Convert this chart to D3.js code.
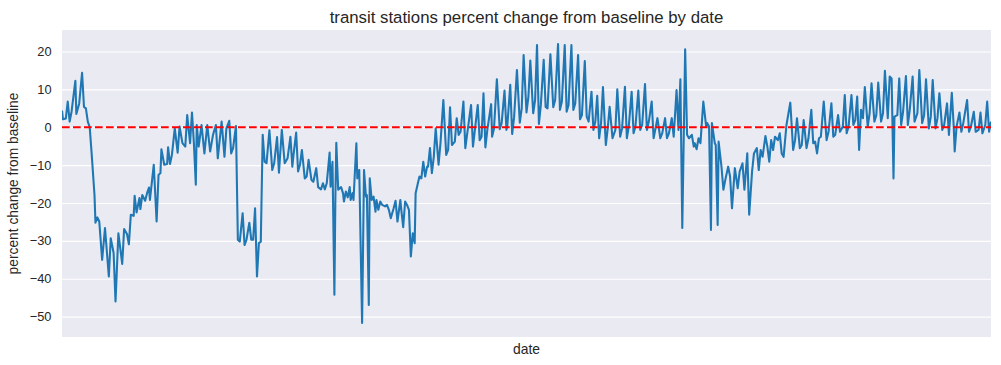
<!DOCTYPE html>
<html><head><meta charset="utf-8">
<script src="https://cdn.jsdelivr.net/npm/d3@7"></script>
<style>
body{margin:0;background:#fff}
text{font-family:"Liberation Sans",Arial,Helvetica,sans-serif;fill:#262626}
</style>
</head><body>
<svg id="chart" width="1001" height="365"></svg>
<script>
// ---- data ----
const startDate = "2020-02-15";
const lastDayOffset = 972;
const dayOffsets = [
0,1,4,6,8,10,14,15,18,21,23,25,27,29,31,34,35,37,39,42,45,49,51,54,56,59,63,65,68,70,72,75,76,78,81,82,84,87,89,91,92,96,99,101,103,104,107,110,111,113,
115,118,121,123,126,129,131,134,136,138,140,141,143,146,149,152,155,158,161,163,167,170,172,175,177,179,182,184,186,189,191,193,196,198,200,202,204,206,208,210,212,214,217,
220,222,225,227,230,233,236,239,241,242,245,247,249,251,254,256,258,261,263,266,268,271,273,275,277,280,281,283,285,286,287,289,292,294,295,297,299,301,302,304,305,308,309,311,314,316,318,319,321,322,324,326,
328,329,331,333,335,338,340,342,344,347,349,351,354,355,357,359,361,363,365,367,369,370,372,374,376,378,380,382,383,385,387,389,391,394,396,399,402,404,406,408,411,413,415,417,420,422,424,428,430,432,435,437,439,
441,443,445,449,450,452,455,458,460,463,465,466,469,471,473,476,479,481,483,486,488,490,493,495,497,499,501,504,506,508,511,514,516,519,521,523,526,528,530,533,535,537,540,542,544,547,
549,551,554,556,558,560,562,564,566,569,571,573,576,579,581,584,586,589,591,593,596,598,600,603,605,607,610,612,614,617,619,620,623,626,628,631,633,635,638,640,643,645,647,649,652,654,656,659,661,
662,664,666,668,671,674,675,677,679,680,683,684,686,687,690,692,694,697,699,701,704,707,709,712,714,717,719,722,724,727,729,731,733,736,738,740,742,744,746,749,751,753,755,758,762,
765,767,769,772,774,776,779,781,784,786,788,790,792,794,797,800,802,805,807,809,812,814,817,819,821,823,826,828,830,832,834,836,838,840,843,845,847,850,852,854,857,859,861,864,
866,868,870,871,874,876,878,880,883,885,887,890,892,895,897,900,902,904,907,909,911,914,916,918,921,923,926,928,931,933,934,936,939,941,943,947,949,951,954,956,959,961,963,966,968,970,972
];
const values = [
4.4,2.1,2.3,6.8,1.5,4.1,12.3,3.5,6.3,14.4,5.4,5.0,1.5,0,-6.9,-17.9,-25.2,-23.8,-24.9,-35.0,-26.6,-39.4,-29.3,-33.2,-46.0,-28.0,-36.1,-26.9,-28.2,-30.9,-23.1,-23.4,-18.1,-22.5,-18.7,-21.6,-17.9,-19.4,-17.4,-15.9,-19.2,-9.9,-24.9,-12.6,-12.1,-5.8,-9.9,-9.7,-5.3,-9.7,
-7.3,-0.3,-6.7,0.2,-4.2,-5.1,3.2,-4.2,3.9,-4.2,-15.2,0.6,-5.1,0.6,-6.9,0.6,-6.4,-2.0,0.6,-8.2,1.5,-7.8,-0.3,1.7,-6.9,-5.5,0.3,-29.7,-30.2,-22.7,-31.1,-29.7,-25.2,-29.7,-29.7,-21.4,-39.4,-30.6,-30.2,-2.0,-9.1,-9.5,-0.8,
-11.3,-9.5,-2.6,-12.0,-0.7,-9.5,-8.2,-2.5,-10.4,-7.8,-1.4,-11.7,-9.9,-6.0,-13.5,-13.0,-8.6,-13.9,-14.4,-10.8,-15.8,-16.4,-14.8,-16.4,-14.8,-6.7,-15.7,-9.1,-44.2,-19.2,-4.1,-16.5,-15.8,-17.4,-19.6,-17.0,-18.5,-15.8,-19.2,-17.4,-19.2,-4.2,-13.5,-11.3,-51.7,-11.3,-18.3,-17.9,-46.9,-13.5,-19.2,-18.3,
-22.3,-19.2,-21.8,-19.6,-20.5,-20.9,-20.5,-21.8,-24.0,-21.4,-19.4,-24.9,-19.2,-21.8,-26.4,-19.6,-20.5,-21.8,-34.1,-28.0,-30.6,-17.4,-15.2,-13.0,-13.5,-9.1,-13.0,-10.4,-10.4,-5.5,-12.1,-7.8,-0.3,-9.9,-4.2,7.2,-7.3,-6.0,5.3,-4.7,-3.8,2.4,-2.0,-1.2,6.8,-5.5,-1.6,5.9,-5.1,-0.7,5.9,-3.4,-2.5,
9.0,-5.3,-0.7,6.1,-2.5,-0.3,12.7,-0.5,1.1,9.7,-0.7,0.6,11.2,-1.8,2.6,15.1,1.2,5.0,19.1,3.9,8.1,17.6,3.7,7.2,21.7,0.9,5.9,17.8,5.4,5.0,19.3,5.3,7.2,22.0,4.6,6.8,21.7,4.1,5.9,21.7,4.6,6.3,19.1,2.1,3.2,17.5,
2.8,1.5,9.4,-0.7,1.5,8.3,-2.9,1.1,10.6,-4.7,-0.3,5.4,-2.9,-0.7,10.0,-2.5,-0.3,10.7,-2.9,0.2,9.4,-1.6,0.2,9.7,-0.7,0.6,11.4,-0.7,1.5,6.8,-2.9,-1.6,2.4,-2.9,-1.6,2.4,-2.9,-1.6,2.4,-2.5,9.8,-0.7,12.7,-26.6,20.6,-2.0,-2.9,-2.0,-5.1,
-4.2,-5.8,-2.9,-4.2,6.8,0.2,1.1,0.2,-27.1,1.1,-4.2,-4.7,-25.8,-3.8,-10.4,-16.5,-13.9,-10.4,-13.0,-21.4,-10.8,-16.1,-11.7,-9.5,-16.5,-6.9,-23.1,-11.7,-6.9,-5.5,-11.3,-6.0,-7.8,-2.3,-5.1,-9.1,-3.4,-6.0,-2.5,-3.4,-1.6,-6.9,-7.8,0.6,6.5,
-6.0,-3.4,2.4,-5.5,-4.7,1.9,-5.5,-2.9,4.6,-4.2,-3.8,-6.9,-2.9,-2.5,6.8,-3.4,-1.2,6.3,-2.5,-2.0,3.2,-1.2,0.2,8.5,-1.6,0.2,8.5,0.6,1.9,8.1,-6.0,4.6,2.4,10.6,0.2,3.7,11.6,1.5,3.2,11.8,1.5,3.7,14.9,2.4,
13.4,12.9,-13.5,2.8,3.2,12.9,0.6,4.1,13.5,0.6,4.6,13.4,1.5,3.7,15.1,1.1,3.2,12.7,-0.3,2.8,12.5,-0.3,2.4,9.0,-0.7,0.6,6.3,-2.0,9.1,0.2,-6.4,0.2,3.9,-1.2,1.1,7.2,-1.2,0.2,4.1,-1.2,-0.7,3.9,-1.6,0.6,6.8,-1.2,1.5
];
const yTicks = [-50, -40, -30, -20, -10, 0, 10, 20];
const baselineValue = 0;
const titleText = "transit stations percent change from baseline by date";
const xLabelText = "date";
const yLabelText = "percent change from baseline";

// ---- layout ----
const W = 1001, H = 365;
const M = {left: 62, right: 1001 - 991, top: 30, bottom: 365 - 337};
const svg = d3.select("#chart");
const parse = d3.timeParse("%Y-%m-%d");
const t0 = parse(startDate);
const data = dayOffsets.map((d, i) => ({date: d3.timeDay.offset(t0, d), value: values[i]}));

const x = d3.scaleTime()
  .domain([t0, d3.timeDay.offset(t0, lastDayOffset)])
  .range([M.left, W - M.right]);
const [vmin, vmax] = d3.extent(values);
const pad = (vmax - vmin) * 0.05;
const y = d3.scaleLinear()
  .domain([vmin - pad, vmax + pad])
  .range([H - M.bottom, M.top]);

// background
svg.append("rect")
  .attr("x", M.left).attr("y", M.top)
  .attr("width", W - M.left - M.right)
  .attr("height", H - M.top - M.bottom)
  .attr("fill", "#eaeaf2");

// y axis with gridlines
const yAxis = d3.axisLeft(y).tickValues(yTicks).tickSize(0).tickPadding(10.5)
  .tickFormat(d3.format("d"));
const gy = svg.append("g").attr("transform", `translate(${M.left},0)`).call(yAxis);
gy.select(".domain").remove();
gy.selectAll("text").attr("font-size", "12.8px").attr("fill", "#262626")
  .style("font-family", '"Liberation Sans",Arial,sans-serif');

const grid = d3.axisLeft(y).tickValues(yTicks).tickSize(-(W - M.left - M.right)).tickFormat("");
const gg = svg.append("g").attr("transform", `translate(${M.left},0)`).call(grid);
gg.select(".domain").remove();
gg.selectAll("line").attr("stroke", "#ffffff").attr("stroke-width", 1.1);

// clip
svg.append("clipPath").attr("id", "clip").append("rect")
  .attr("x", M.left).attr("y", M.top)
  .attr("width", W - M.left - M.right).attr("height", H - M.top - M.bottom);

// series line
const line = d3.line().x(d => x(d.date)).y(d => y(d.value));
svg.append("path").datum(data)
  .attr("clip-path", "url(#clip)")
  .attr("fill", "none")
  .attr("stroke", "#1f77b4")
  .attr("stroke-width", 2.08)
  .attr("stroke-linejoin", "round")
  .attr("stroke-linecap", "butt")
  .attr("d", line);

// baseline dashed red line
svg.append("line")
  .attr("x1", M.left).attr("x2", W - M.right)
  .attr("y1", y(baselineValue)).attr("y2", y(baselineValue))
  .attr("stroke", "#ff0000").attr("stroke-width", 2.08)
  .attr("stroke-dasharray", "7.7,3.3");

// title & labels
svg.append("text")
  .attr("x", (M.left + W - M.right) / 2).attr("y", 23.3)
  .attr("text-anchor", "middle").attr("font-size", "16.8px")
  .text(titleText);
svg.append("text")
  .attr("x", (M.left + W - M.right) / 2).attr("y", 353.5)
  .attr("text-anchor", "middle").attr("font-size", "13.9px")
  .text(xLabelText);
svg.append("text")
  .attr("transform", `translate(18.3,${(M.top + H - M.bottom) / 2}) rotate(-90)`)
  .attr("text-anchor", "middle").attr("font-size", "13.8px")
  .text(yLabelText);
</script>
</body></html>
